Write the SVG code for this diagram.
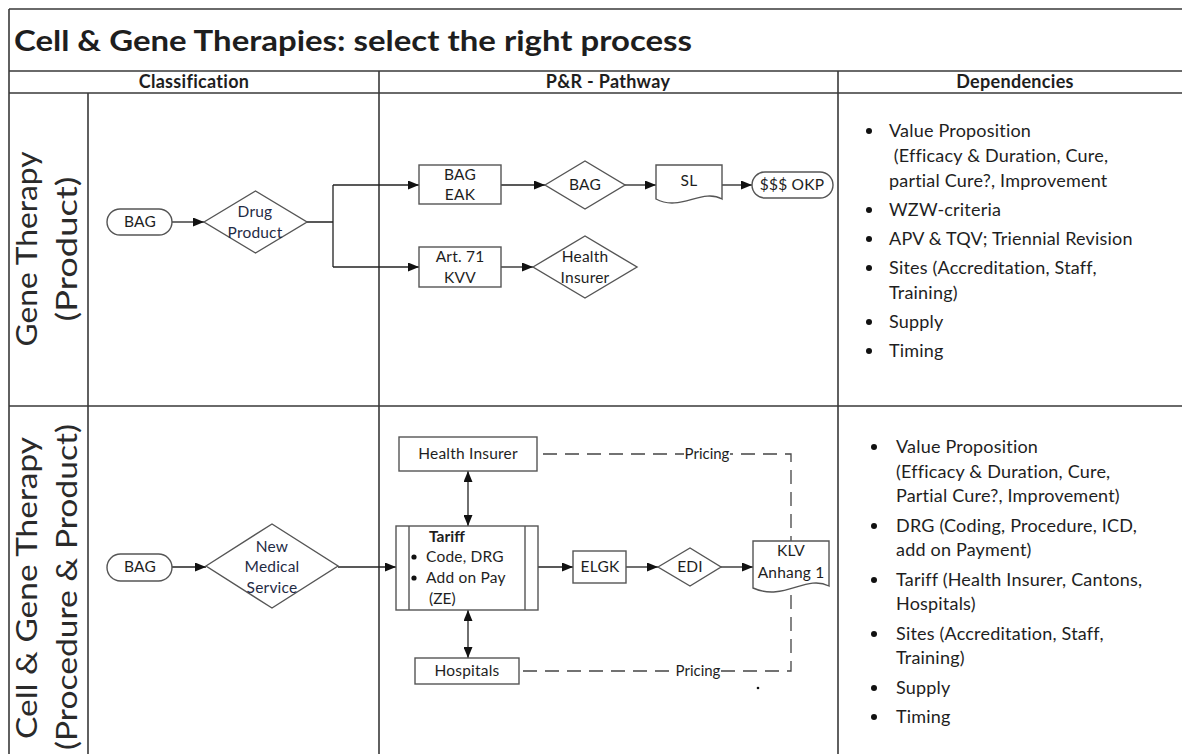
<svg xmlns="http://www.w3.org/2000/svg" width="1182" height="754" viewBox="0 0 1182 754">
<defs>
<style>
text{font-family:Lato,"Open Sans","Liberation Sans",sans-serif;fill:#1e1e1e}
.frame{stroke:#3a3a3a;stroke-width:1.6;fill:none}
.shape{fill:#fff;stroke:#555;stroke-width:1.4}
.n{font-size:15.5px;letter-spacing:0.2px;text-anchor:middle}
.nb{font-size:15.5px;letter-spacing:0.2px;fill:#1f2b45;text-anchor:middle}
.hdr{font-size:18px;letter-spacing:0.3px;font-weight:bold;text-anchor:middle}
.lane{font-size:28px;font-weight:400;text-anchor:middle;fill:#2a2a2a}
.dep{font-size:18px;letter-spacing:0.2px}
.conn{stroke:#222;stroke-width:1.3;fill:none}
.dash{stroke:#444;stroke-width:1.3;fill:none;stroke-dasharray:14 8}
</style>
<marker id="ah" markerUnits="userSpaceOnUse" markerWidth="11" markerHeight="9" refX="11" refY="4.5" orient="auto-start-reverse">
<path d="M0,0 L11,4.5 L0,9 z" fill="#111"/>
</marker>
</defs>
<rect width="1182" height="754" fill="#fff"/>
<g id="frame">
<path class="frame" d="M9,9 H1182 M9,71 H1182 M9,93 H1182 M9,406 H1182 M9,9 V754 M88,93 V754 M379,71 V754 M838,71 V754"/>
<text x="14" y="51" style="font-size:28px;font-weight:bold" textLength="678" lengthAdjust="spacingAndGlyphs">Cell &amp; Gene Therapies: select the right process</text>
<text class="hdr" x="194" y="88">Classification</text>
<text class="hdr" x="608" y="88">P&amp;R - Pathway</text>
<text class="hdr" x="1015" y="88">Dependencies</text>
</g>
<g id="lane-gene">
<text class="lane" transform="translate(37,249) rotate(-90)" textLength="195" lengthAdjust="spacingAndGlyphs">Gene Therapy</text>
<text class="lane" transform="translate(77,249) rotate(-90)" textLength="145" lengthAdjust="spacingAndGlyphs">(Product)</text>
</g>
<g id="lane-cell">
<text class="lane" transform="translate(37,588) rotate(-90)" textLength="302" lengthAdjust="spacingAndGlyphs">Cell &amp; Gene Therapy</text>
<text class="lane" transform="translate(77,587) rotate(-90)" textLength="326" lengthAdjust="spacingAndGlyphs">(Procedure &amp; Product)</text>
</g>
<g id="connectors">
<path class="conn" d="M172,222 H204" marker-end="url(#ah)"/>
<path class="conn" d="M307,222 H333 M333,185 V267"/>
<path class="conn" d="M333,185 H419" marker-end="url(#ah)"/>
<path class="conn" d="M333,267 H419" marker-end="url(#ah)"/>
<path class="conn" d="M501,185 H545" marker-end="url(#ah)"/>
<path class="conn" d="M625,185 H656" marker-end="url(#ah)"/>
<path class="conn" d="M722,185 H752" marker-end="url(#ah)"/>
<path class="conn" d="M501,267 H533" marker-end="url(#ah)"/>
<path class="conn" d="M172,567 H206" marker-end="url(#ah)"/>
<path class="conn" d="M338,567 H396" marker-end="url(#ah)"/>
<path class="conn" d="M468,471 V526" marker-start="url(#ah)" marker-end="url(#ah)"/>
<path class="conn" d="M468,610 V658" marker-start="url(#ah)" marker-end="url(#ah)"/>
<path class="conn" d="M538,567 H573" marker-end="url(#ah)"/>
<path class="conn" d="M626,567 H658" marker-end="url(#ah)"/>
<path class="conn" d="M721,567 H753" marker-end="url(#ah)"/>
<path class="dash" d="M543,454 H791 V541"/>
<path class="dash" d="M523,671 H791 V588"/>
<rect x="684" y="445" width="46" height="18" fill="#fff"/>
<text x="707" y="459" style="font-size:15px;text-anchor:middle">Pricing</text>
<rect x="675" y="662" width="46" height="18" fill="#fff"/>
<text x="698" y="676" style="font-size:15px;text-anchor:middle">Pricing</text>
<circle cx="758" cy="688" r="1.3" fill="#111"/>
</g>
<g id="n-bag1"><rect class="shape" x="107" y="209" width="65" height="26" rx="13"/><text class="n" x="140" y="227">BAG</text></g>
<g id="n-drug"><path class="shape" d="M204,222 L255.5,191 L307,222 L255.5,253 Z"/><text class="nb" x="255" y="217">Drug</text><text class="nb" x="255" y="238">Product</text></g>
<g id="n-bageak"><rect class="shape" x="419" y="165" width="82" height="39"/><text class="n" x="460" y="180">BAG</text><text class="n" x="460" y="200">EAK</text></g>
<g id="n-bagd"><path class="shape" d="M545,185 L585,161 L625,185 L585,209 Z"/><text class="n" x="585" y="190">BAG</text></g>
<g id="n-sl"><path class="shape" d="M656,165 H722 V199 C702,188 680,212 656,199 Z"/><text class="n" x="689" y="186">SL</text></g>
<g id="n-okp"><rect class="shape" x="752" y="172" width="81" height="26" rx="13"/><text class="n" x="792" y="190">$$$ OKP</text></g>
<g id="n-art71"><rect class="shape" x="419" y="247" width="82" height="40"/><text class="n" x="460" y="262">Art. 71</text><text class="n" x="460" y="283">KVV</text></g>
<g id="n-hid"><path class="shape" d="M533,267 L585,236 L637,267 L585,298 Z"/><text class="n" x="585" y="262">Health</text><text class="n" x="585" y="283">Insurer</text></g>
<g id="n-bag2"><rect class="shape" x="107" y="554" width="65" height="27" rx="13.5"/><text class="n" x="140" y="572">BAG</text></g>
<g id="n-nms"><path class="shape" d="M206,566 L272,524 L338,566 L272,608 Z"/><text class="nb" x="272" y="552">New</text><text class="nb" x="272" y="572">Medical</text><text class="nb" x="272" y="593">Service</text></g>
<g id="n-hi"><rect class="shape" x="399" y="437" width="138" height="34"/><text class="n" x="468" y="459">Health Insurer</text></g>
<g id="n-tariff"><rect class="shape" x="396" y="526" width="142" height="84"/><path class="shape" d="M409,526 V610 M525,526 V610"/>
<text x="429" y="542" style="font-size:15.5px;font-weight:bold">Tariff</text>
<circle cx="414" cy="557" r="2.6" fill="#111"/><text x="426" y="562" style="font-size:15.5px;letter-spacing:0.2px">Code, DRG</text>
<circle cx="414" cy="578" r="2.6" fill="#111"/><text x="426" y="583" style="font-size:15.5px;letter-spacing:0.2px">Add on Pay</text>
<text x="429" y="604" style="font-size:15.5px">(ZE)</text></g>
<g id="n-hosp"><rect class="shape" x="415" y="658" width="104" height="26"/><text class="n" x="467" y="676">Hospitals</text></g>
<g id="n-elgk"><rect class="shape" x="573" y="551" width="53" height="32"/><text class="n" x="600" y="572">ELGK</text></g>
<g id="n-edi"><path class="shape" d="M658,567 L690,548 L721,567 L690,586 Z"/><text class="n" x="690" y="572">EDI</text></g>
<g id="n-klv"><path class="shape" d="M753,541 H829 V586 C806,574 784,602 753,588 Z"/><text class="n" x="791" y="556">KLV</text><text class="n" x="791" y="578">Anhang 1</text></g>
<g id="deps-gene">
<g fill="#111"><circle cx="869" cy="131" r="3"/><circle cx="869" cy="210" r="3"/><circle cx="869" cy="239" r="3"/><circle cx="869" cy="268" r="3"/><circle cx="869" cy="322" r="3"/><circle cx="869" cy="351" r="3"/></g>
<text class="dep" x="889" y="137">Value Proposition</text>
<text class="dep" x="889" y="162" xml:space="preserve"> (Efficacy &amp; Duration, Cure,</text>
<text class="dep" x="889" y="187">partial Cure?, Improvement</text>
<text class="dep" x="889" y="216">WZW-criteria</text>
<text class="dep" x="889" y="245">APV &amp; TQV; Triennial Revision</text>
<text class="dep" x="889" y="274">Sites (Accreditation, Staff,</text>
<text class="dep" x="889" y="299">Training)</text>
<text class="dep" x="889" y="328">Supply</text>
<text class="dep" x="889" y="357">Timing</text>
</g>
<g id="deps-cell">
<g fill="#111"><circle cx="874" cy="447" r="3"/><circle cx="874" cy="526" r="3"/><circle cx="874" cy="580" r="3"/><circle cx="874" cy="634" r="3"/><circle cx="874" cy="688" r="3"/><circle cx="874" cy="717" r="3"/></g>
<text class="dep" x="896" y="453">Value Proposition</text>
<text class="dep" x="896" y="478">(Efficacy &amp; Duration, Cure,</text>
<text class="dep" x="896" y="502">Partial Cure?, Improvement)</text>
<text class="dep" x="896" y="532">DRG (Coding, Procedure, ICD,</text>
<text class="dep" x="896" y="556">add on Payment)</text>
<text class="dep" x="896" y="586">Tariff (Health Insurer, Cantons,</text>
<text class="dep" x="896" y="610">Hospitals)</text>
<text class="dep" x="896" y="640">Sites (Accreditation, Staff,</text>
<text class="dep" x="896" y="664">Training)</text>
<text class="dep" x="896" y="694">Supply</text>
<text class="dep" x="896" y="723">Timing</text>
</g>
</svg>
